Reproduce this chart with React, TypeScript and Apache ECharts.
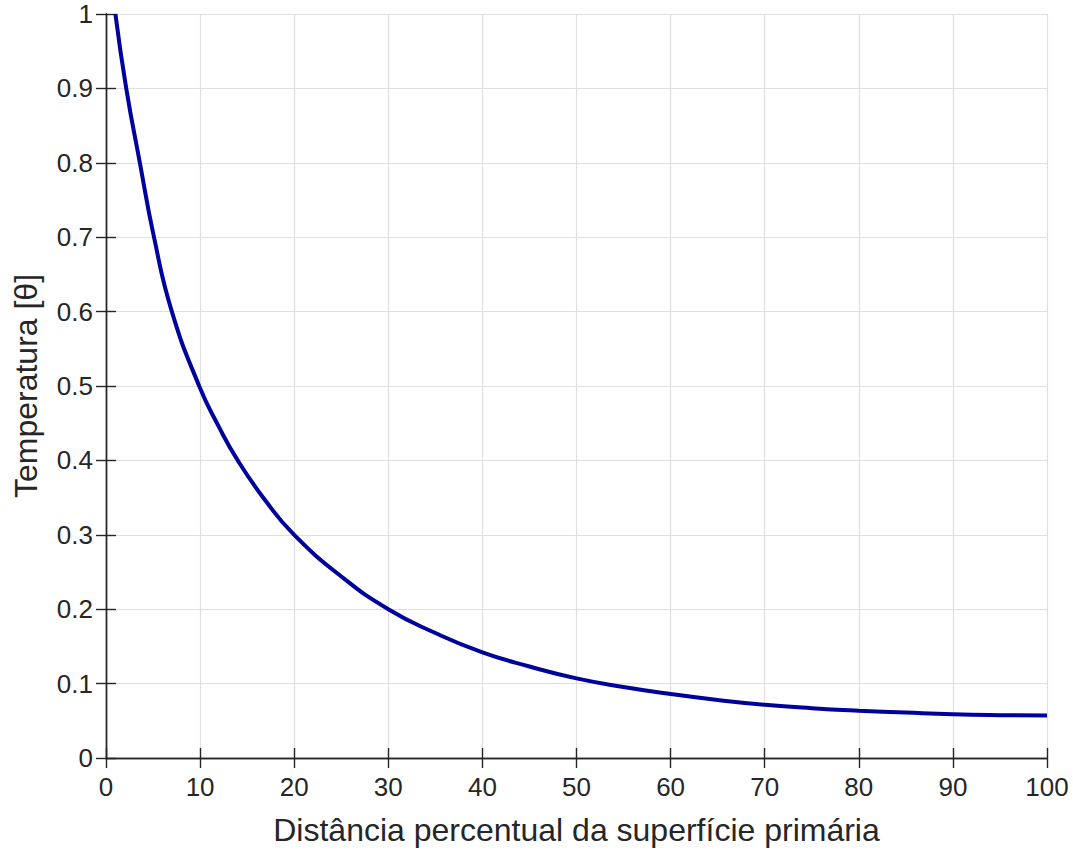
import React, { useEffect, useRef } from "react";
import * as echarts from "echarts";

// Distance along the fin (percent of length from the primary surface)
const distance = [1, 2.15, 3.6, 5.1, 7.0, 9.9, 12, 14, 17, 20, 25, 30, 35, 40, 45, 50, 55, 60, 65, 70, 75, 80, 85, 90, 95, 100];
// Dimensionless temperature at each distance
const temperature = [1, 0.9, 0.8, 0.7, 0.6, 0.5, 0.445, 0.4, 0.345, 0.3, 0.244, 0.2, 0.168, 0.142, 0.123, 0.107, 0.0955, 0.086, 0.078, 0.0716, 0.067, 0.0636, 0.061, 0.0587, 0.0575, 0.057];

const xTicks = { min: 0, max: 100, interval: 10 };
const yTicks = { min: 0, max: 1, interval: 0.1 };

const FONT = "'Liberation Sans', Arial, Helvetica, sans-serif";
const INK = "#262626";
const GRID = "#dfdfdf";

export default function App() {
  const ref = useRef<HTMLDivElement>(null);

  useEffect(() => {
    if (!ref.current) return;
    const chart = echarts.init(ref.current, undefined, { renderer: "svg" });

    const axisLine = { show: true, lineStyle: { color: INK, width: 1.4 } };
    const axisTick = { show: true, inside: true, length: 10, lineStyle: { color: INK, width: 1.4 } };
    const splitLine = { show: true, lineStyle: { color: GRID, width: 1.2 } };

    chart.setOption({
      animation: false,
      backgroundColor: "#ffffff",
      textStyle: { fontFamily: FONT },
      grid: { left: 106, right: 26, top: 14, bottom: 95, containLabel: false },
      xAxis: [
        {
          type: "value",
          position: "bottom",
          ...xTicks,
          axisLine,
          axisTick,
          splitLine,
          axisLabel: { color: INK, fontSize: 26, fontFamily: FONT, margin: 16 },
          name: "Distância percentual da superfície primária",
          nameLocation: "middle",
          nameGap: 56,
          nameTextStyle: { color: INK, fontSize: 32, fontFamily: FONT },
        },
        {
          type: "value",
          position: "top",
          ...xTicks,
          axisLine,
          axisTick,
          splitLine: { show: false },
          axisLabel: { show: false },
        },
      ],
      yAxis: [
        {
          type: "value",
          position: "left",
          ...yTicks,
          axisLine,
          axisTick,
          splitLine,
          axisLabel: { color: INK, fontSize: 26, fontFamily: FONT, margin: 13 },
          name: "Temperatura [θ]",
          nameLocation: "middle",
          nameGap: 64,
          nameRotate: 90,
          nameTextStyle: { color: INK, fontSize: 32, fontFamily: FONT },
        },
        {
          type: "value",
          position: "right",
          ...yTicks,
          axisLine,
          axisTick,
          splitLine: { show: false },
          axisLabel: { show: false },
        },
      ],
      series: [
        {
          type: "line",
          xAxisIndex: 0,
          yAxisIndex: 0,
          data: distance.map((d, i) => [d, temperature[i]]),
          showSymbol: false,
          smooth: 0.5,
          lineStyle: { color: "#00009c", width: 4 },
          clip: false,
        },
      ],
    });

    return () => chart.dispose();
  }, []);

  return (
    <div
      ref={ref}
      style={{ position: "absolute", left: 0, top: 0, width: 1073, height: 853, background: "#fff" }}
    />
  );
}
